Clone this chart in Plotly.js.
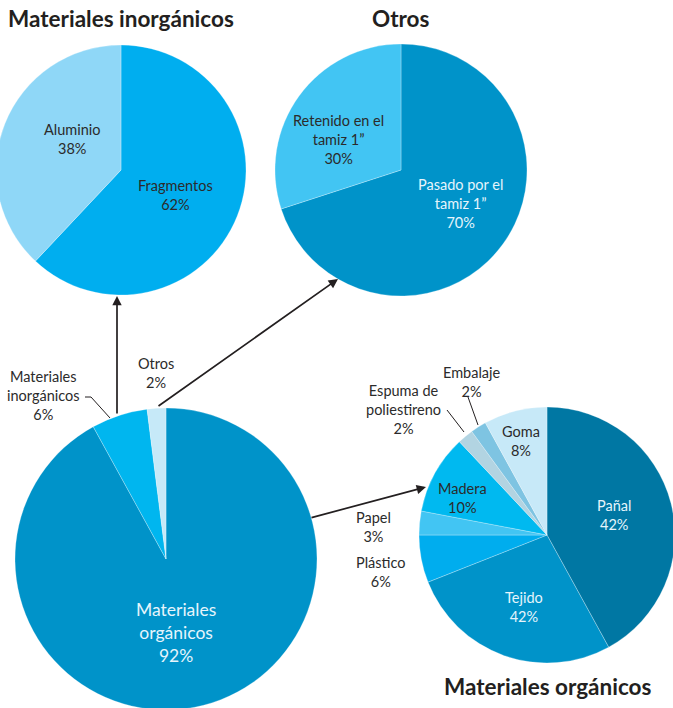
<!DOCTYPE html>
<html>
<head>
<meta charset="utf-8">
<script src="https://cdn.plot.ly/plotly-3.0.1.min.js"></script>
<style>
html,body{margin:0;padding:0;overflow:hidden;background:#fff;width:673px;height:708px;}
#chart{position:absolute;left:-4px;top:0;width:681px;height:716px;}
</style>
</head>
<body>
<div id="chart"></div>
<script>
// ---- data ----
const bigLabels = ['Materiales<br>orgánicos', 'Materiales<br>inorgánicos', 'Otros'];
const bigValues = [92, 6, 2];
const bigPct = ['92%', '6%', '2%'];

const inorgLabels = ['Fragmentos', 'Aluminio'];
const inorgValues = [62, 38];
const inorgPct = ['62%', '38%'];

const otrosLabels = ['Pasado por el<br>tamiz 1”', 'Retenido en el<br>tamiz 1”'];
const otrosValues = [70, 30];
const otrosPct = ['70%', '30%'];

const orgLabels = ['Pañal', 'Tejido', 'Plástico', 'Papel', 'Madera', 'Espuma de<br>poliestireno', 'Embalaje', 'Goma'];
const orgValues = [42, 27, 6, 3, 10, 2, 2, 8];
const orgPct = ['42%', '42%', '6%', '3%', '10%', '2%', '2%', '8%'];

const titles = ['Materiales inorgánicos', 'Otros', 'Materiales orgánicos'];

// ---- layout helpers (screen pixel -> paper) ----
const W = 681, H = 716, OFF = 4;
const fx = x => (x + OFF) / W;
const fy = y => 1 - y / H;
const dom = (cx, cy, r) => ({x: [fx(cx - r), fx(cx + r)], y: [fy(cy + r), fy(cy - r)]});

const FONT = 'Lato, "Open Sans", sans-serif';
const DARK = '#2b2b2b';
const LIGHT = '#e6f5fc';

function pie(labels, values, colors, d) {
  return {
    type: 'pie', labels: labels, values: values, sort: false,
    direction: 'clockwise', rotation: 0, textinfo: 'none', hoverinfo: 'label+percent',
    marker: {colors: colors, line: {color: 'rgba(255,255,255,0.45)', width: 0.6}},
    domain: d, showlegend: false
  };
}

const data = [
  pie(inorgLabels, inorgValues, ['#00aeef', '#8fd7f7'], dom(121, 170, 125)),
  pie(otrosLabels, otrosValues, ['#0093c9', '#42c5f3'], dom(401, 170, 126)),
  pie(bigLabels, bigValues, ['#0093c9', '#00b6ef', '#c6e9f8'], dom(166, 559, 151)),
  pie(orgLabels, orgValues, ['#0077a3', '#0093c9', '#00adee', '#42c5f3', '#00b9f0', '#b2d4e2', '#7ec4e2', '#c7e9f8'], dom(547, 535, 128))
];

const annotations = [];
function lab(text, x, y, color, size) {
  annotations.push({xref: 'paper', yref: 'paper', x: fx(x), y: fy(y), text: text, showarrow: false,
    xanchor: 'center', yanchor: 'middle', align: 'center',
    font: {family: FONT, size: size || 14.5, color: color || DARK}});
}
// slice labels (centre of text block)
lab(inorgLabels[0] + '<br>' + inorgPct[0], 175, 195);
lab(inorgLabels[1] + '<br>' + inorgPct[1], 72, 139);
lab(otrosLabels[0] + '<br>' + otrosPct[0], 460, 204, LIGHT);
lab(otrosLabels[1] + '<br>' + otrosPct[1], 338, 140);
lab(bigLabels[0] + '<br>' + bigPct[0], 176, 632, LIGHT, 17.5);
lab(bigLabels[1] + '<br>' + bigPct[1], 43, 395);
lab(bigLabels[2] + '<br>' + bigPct[2], 156, 373);
lab(orgLabels[0] + '<br>' + orgPct[0], 614, 515, LIGHT);
lab(orgLabels[1] + '<br>' + orgPct[1], 524, 607, LIGHT);
lab(orgLabels[2] + '<br>' + orgPct[2], 381, 572);
lab(orgLabels[3] + '<br>' + orgPct[3], 373, 527);
lab(orgLabels[4] + '<br>' + orgPct[4], 462, 498);
lab(orgLabels[5] + '<br>' + orgPct[5], 403, 409);
lab(orgLabels[6] + '<br>' + orgPct[6], 472, 382);
lab(orgLabels[7] + '<br>' + orgPct[7], 521, 441);

// titles
function ttl(text, x, y, anchor) {
  annotations.push({xref: 'paper', yref: 'paper', x: fx(x), y: fy(y), text: '<b>' + text + '</b>', showarrow: false,
    xanchor: anchor, yanchor: 'middle', font: {family: FONT, size: 22.5, color: '#231f20'}});
}
ttl(titles[0], 6, 18, 'left');
ttl(titles[1], 401, 18, 'center');
ttl(titles[2], 547, 686, 'center');

// arrows (head, tail)
function arrow(hx, hy, tx, ty) {
  annotations.push({xref: 'paper', yref: 'paper', x: fx(hx), y: fy(hy), ax: tx - hx, ay: ty - hy,
    axref: 'pixel', ayref: 'pixel', text: '', showarrow: true, arrowhead: 2, arrowsize: 1.1,
    arrowwidth: 1.7, arrowcolor: '#231f20', standoff: 0, startstandoff: 0});
}
arrow(117, 296, 117, 415);
arrow(338, 279, 157, 407);
arrow(426, 487, 310, 518);

// leader lines
function path(pts) {
  return {type: 'path', xref: 'paper', yref: 'paper',
    path: pts.map((p, i) => (i ? 'L' : 'M') + fx(p[0]) + ',' + fy(p[1])).join(' '),
    line: {color: '#231f20', width: 1}};
}
const shapes = [
  path([[85, 397], [91, 397], [110, 418]]),
  path([[447, 410], [464, 432]]),
  path([[468, 397], [478, 425]])
];

const layout = {
  width: W, height: H, margin: {l: 0, r: 0, t: 0, b: 0},
  paper_bgcolor: '#fff', plot_bgcolor: '#fff',
  annotations: annotations, shapes: shapes, showlegend: false
};
Plotly.newPlot('chart', data, layout, {displayModeBar: false, staticPlot: true});
</script>
</body>
</html>
